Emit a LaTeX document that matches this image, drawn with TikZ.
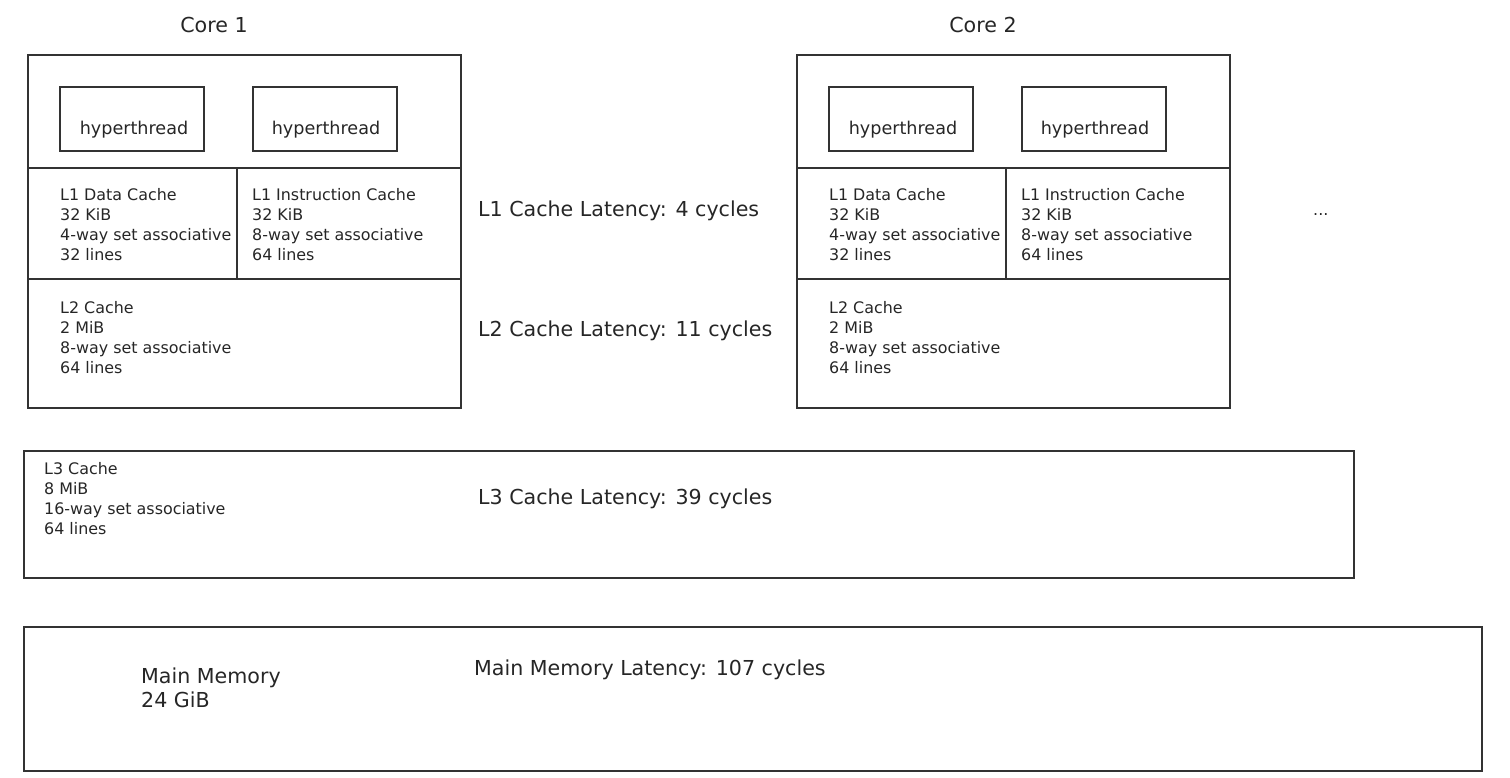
\documentclass[tikz,border=0pt]{standalone}
\usepackage{fontspec}
\setmainfont{DejaVu Sans}
\begin{document}
\begin{tikzpicture}[x=1pt,y=-1pt,
  box/.style={draw=black!80, line width=1.5pt, anchor=north west, inner sep=0pt, outer sep=0pt},
  small/.style={anchor=west, align=left, inner sep=0pt, font=\fontsize{15.9}{20}\selectfont, text=black!85},
  big/.style={anchor=west, align=left, inner sep=0pt, font=\fontsize{20.6}{24}\selectfont, text=black!85},
  ttl/.style={inner sep=0pt, font=\fontsize{20.6}{24}\selectfont, text=black!85},
  ht/.style={inner sep=0pt, font=\fontsize{17.6}{20}\selectfont, text=black!85}]
\useasboundingbox (0,0) rectangle (1510,778);
% Core 1
\node[ttl] (t1) at (214,25) {Core 1};
\node[box, minimum width=433pt, minimum height=353pt] (c1) at (28,55) {};
\node[box, line width=1.3pt, minimum width=144pt, minimum height=64pt] (h11) at (60,87) {};
\node[box, line width=1.3pt, minimum width=144pt, minimum height=64pt] (h12) at (253,87) {};
\node[ht] (h11t) at (134,130) {hyperthread};
\node[ht] (h12t) at (326,130) {hyperthread};
\coordinate (c1a) at (28,168); \coordinate (c1b) at (461,168);
\coordinate (c1c) at (28,279); \coordinate (c1d) at (461,279);
\coordinate (c1e) at (237,168); \coordinate (c1f) at (237,279);
\draw[draw=black!80, line width=1.3pt] (c1a) -- (c1b) (c1c) -- (c1d) (c1e) -- (c1f);
\node[small] (d1) at (60,224.5) {L1 Data Cache\\32 KiB\\4-way set associative\\32 lines};
\node[small] (i1) at (252,224.5) {L1 Instruction Cache\\32 KiB\\8-way set associative\\64 lines};
\node[small] (l21) at (60,337.5) {L2 Cache\\2 MiB\\8-way set associative\\64 lines};
% Core 2
\node[ttl] (t2) at (983,25) {Core 2};
\node[box, minimum width=433pt, minimum height=353pt] (c2) at (797,55) {};
\node[box, line width=1.3pt, minimum width=144pt, minimum height=64pt] (h21) at (829,87) {};
\node[box, line width=1.3pt, minimum width=144pt, minimum height=64pt] (h22) at (1022,87) {};
\node[ht] (h21t) at (903,130) {hyperthread};
\node[ht] (h22t) at (1095,130) {hyperthread};
\coordinate (c2a) at (797,168); \coordinate (c2b) at (1230,168);
\coordinate (c2c) at (797,279); \coordinate (c2d) at (1230,279);
\coordinate (c2e) at (1006,168); \coordinate (c2f) at (1006,279);
\draw[draw=black!80, line width=1.3pt] (c2a) -- (c2b) (c2c) -- (c2d) (c2e) -- (c2f);
\node[small] (d2) at (829,224.5) {L1 Data Cache\\32 KiB\\4-way set associative\\32 lines};
\node[small] (i2) at (1021,224.5) {L1 Instruction Cache\\32 KiB\\8-way set associative\\64 lines};
\node[small] (l22) at (829,337.5) {L2 Cache\\2 MiB\\8-way set associative\\64 lines};
\node[small] (dots) at (1313,215) {...};
% latencies
\node[big] (lat1) at (478,211) {L1 Cache Latency: 4 cycles};
\node[big] (lat2) at (478,331) {L2 Cache Latency: 11 cycles};
\node[big] (lat3) at (478,499) {L3 Cache Latency: 39 cycles};
\node[big] (latm) at (474,670) {Main Memory Latency: 107 cycles};
% L3
\node[box, line width=1.3pt, minimum width=1330pt, minimum height=127pt] (l3) at (24,451) {};
\node[small] (l3t) at (44,498.5) {L3 Cache\\8 MiB\\16-way set associative\\64 lines};
% Main memory
\node[box, minimum width=1458pt, minimum height=144pt] (mm) at (24,627) {};
\node[big] (mmt) at (141,688) {Main Memory\\24 GiB};
\end{tikzpicture}
\end{document}
